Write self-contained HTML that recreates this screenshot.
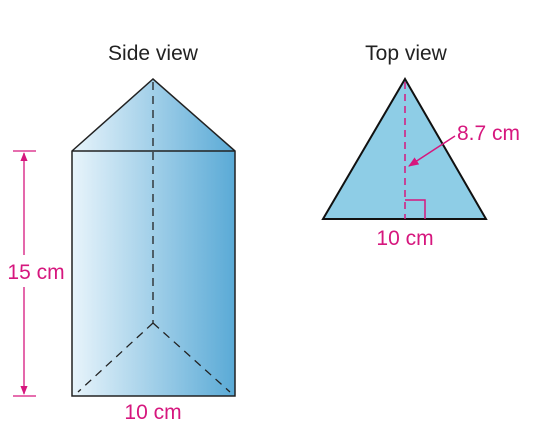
<!DOCTYPE html>
<html><head><style>body{margin:0;background:#fff}svg text{font-family:"Liberation Sans",sans-serif}</style></head>
<body>
<svg width="533" height="437" viewBox="0 0 533 437">
<defs>
<linearGradient id="g" x1="0" x2="1" y1="0" y2="0"><stop offset="0" stop-color="#e8f4fb"/><stop offset="1" stop-color="#5aaad6"/></linearGradient>
<marker id="ah" viewBox="0 0 10 10" refX="9" refY="5" markerWidth="7" markerHeight="7" orient="auto-start-reverse"><path d="M0,1 L10,5 L0,9 z" fill="#d6177e"/></marker>
</defs>
<text x="153" y="60" font-size="21" text-anchor="middle" fill="#222">Side view</text>
<text x="406" y="60" font-size="21" text-anchor="middle" fill="#222">Top view</text>
<g>
<polygon points="72,151 153,79 235,151 235,396 72,396" fill="url(#g)" stroke="#222" stroke-width="1.5"/>
<line x1="72" y1="151" x2="235" y2="151" stroke="#222" stroke-width="1.5"/>
<g stroke="#222" stroke-width="1.3" stroke-dasharray="8,6" fill="none">
<line x1="153" y1="82" x2="153" y2="323"/>
<line x1="153" y1="323" x2="78" y2="392"/>
<line x1="153" y1="323" x2="230" y2="392"/>
</g>
</g>
<g stroke="#d6177e" stroke-width="1.3">
<line x1="13" y1="151" x2="36" y2="151"/>
<line x1="13" y1="396" x2="36" y2="396"/>
<line x1="24" y1="255" x2="24" y2="153" marker-end="url(#ah)"/>
<line x1="24" y1="287" x2="24" y2="394" marker-end="url(#ah)"/>
</g>
<text x="36" y="279" font-size="21" text-anchor="middle" fill="#d6177e">15 cm</text>
<text x="153" y="419" font-size="21" text-anchor="middle" fill="#d6177e">10 cm</text>
<g>
<polygon points="405,79 486,219 323,219" fill="#8ecde6" stroke="#111" stroke-width="2"/>
<line x1="405" y1="82" x2="405" y2="219" stroke="#d6177e" stroke-width="1.5" stroke-dasharray="7,5"/>
<polyline points="405,200 425,200 425,219" fill="none" stroke="#d6177e" stroke-width="1.5"/>
<line x1="455" y1="136" x2="409" y2="166" stroke="#d6177e" stroke-width="1.5" marker-end="url(#ah)"/>
</g>
<text x="457" y="140" font-size="21" fill="#d6177e">8.7 cm</text>
<text x="405" y="245" font-size="21" text-anchor="middle" fill="#d6177e">10 cm</text>
</svg>
</body></html>
